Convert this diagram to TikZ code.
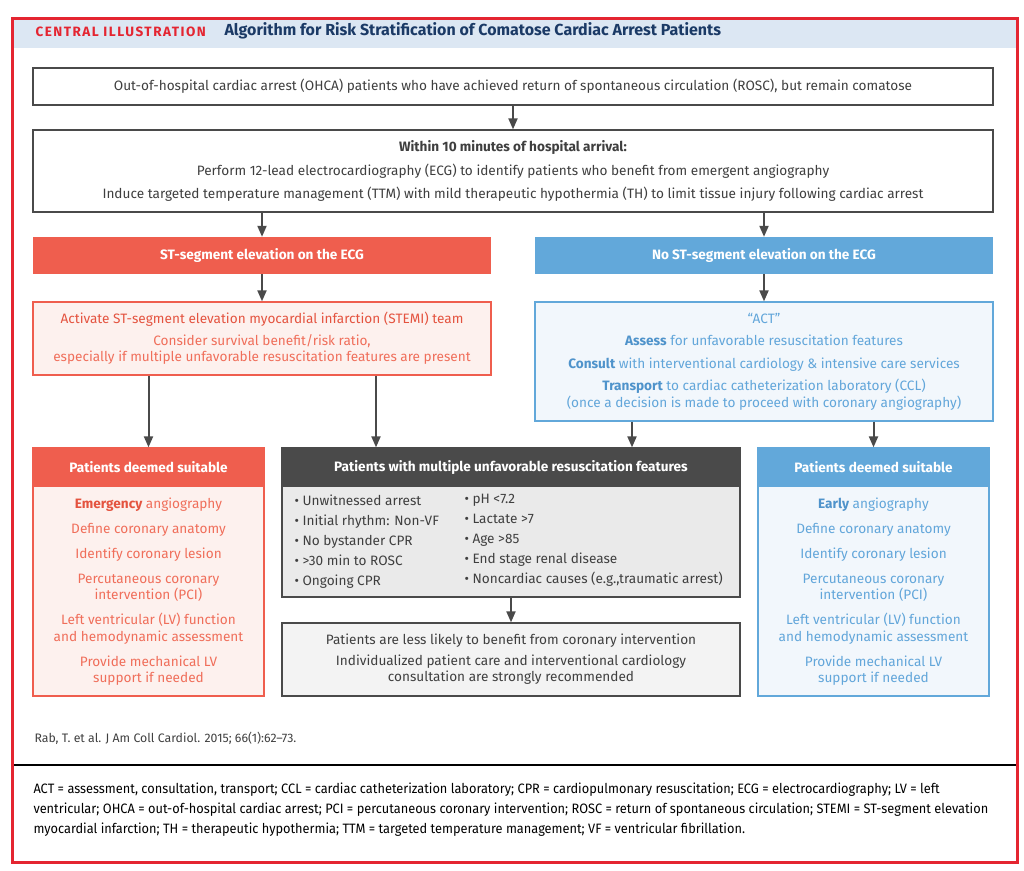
\documentclass[tikz,border=0pt]{standalone}
\usepackage{fontspec}
\setmainfont{Fira Sans}
\newfontfamily\condfont[FakeStretch=0.94]{Fira Sans}
\usetikzlibrary{arrows,arrows.meta,positioning}

\definecolor{framered}{HTML}{E42531}
\definecolor{headband}{HTML}{DCE7F3}
\definecolor{titlenavy}{HTML}{1B3A66}
\definecolor{stred}{HTML}{EF5E4E}
\definecolor{stredtext}{HTML}{F06E5A}
\definecolor{streddark}{HTML}{E4533F}
\definecolor{stredlight}{HTML}{FDF1EE}
\definecolor{noblue}{HTML}{62A8DA}
\definecolor{nobluetext}{HTML}{62A6DA}
\definecolor{nobluedark}{HTML}{4F93CB}
\definecolor{nobluelight}{HTML}{F2F7FC}
\definecolor{darkgray}{HTML}{4A4A4A}
\definecolor{featgray}{HTML}{EAEAEA}
\definecolor{lessgray}{HTML}{F3F3F3}
\definecolor{txtgray}{HTML}{3F3F3F}

\tikzstyle{bodyfont}=[font=\fontsize{13.6}{16.5}\selectfont]

\begin{document}
\begin{tikzpicture}[x=1pt, y=-1pt]

\tikzstyle{plainbox}=[rectangle, draw=darkgray, line width=1.3pt, fill=white, text=txtgray, align=center, bodyfont]
\tikzstyle{redhead}=[rectangle, fill=stred, text=white, align=center, font=\fontsize{13.6}{16}\selectfont\bfseries]
\tikzstyle{bluehead}=[redhead, fill=noblue]
\tikzstyle{grayhead}=[redhead, fill=darkgray]
\tikzstyle{redbox}=[rectangle, draw=stred, line width=1.3pt, fill=stredlight, text=stredtext, align=center, bodyfont]
\tikzstyle{bluebox}=[rectangle, draw=noblue, line width=1.3pt, fill=nobluelight, text=nobluetext, align=center, bodyfont]
\tikzstyle{graybox}=[rectangle, draw=darkgray, line width=1.3pt, fill=featgray, text=txtgray, bodyfont]
\tikzstyle{bullets}=[anchor=north west, text=txtgray, align=left, font=\fontsize{13.6}{20}\selectfont]
\tikzstyle{arrow}=[-{Triangle[length=11pt,width=9pt]}, line width=2pt, draw=darkgray]

\useasboundingbox (0,0) rectangle (1024,870);

% title band
\fill[headband] (13,19) rectangle (1016,48);
\node (label) [anchor=west, text=framered, font=\fontsize{13.5}{14}\selectfont\bfseries\addfontfeature{LetterSpace=11}] at (32,32) {CENTRAL ILLUSTRATION};
\node (title) [anchor=west, text=titlenavy, font=\fontsize{16}{17}\selectfont\bfseries] at (221,31) {Algorithm for Risk Stratification of Comatose Cardiac Arrest Patients};

% top of the algorithm
\node (ohca) [plainbox, minimum width=960pt, minimum height=37pt] at (513,86.5)
  {Out-of-hospital cardiac arrest (OHCA) patients who have achieved return of spontaneous circulation (ROSC), but remain comatose};
\node (within) [plainbox, minimum width=960pt, minimum height=82pt] at (513,171)
  {\bfseries Within 10 minutes of hospital arrival:\\[7pt]
   Perform 12-lead electrocardiography (ECG) to identify patients who benefit from emergent angiography\\[7pt]
   Induce targeted temperature management (TTM) with mild therapeutic hypothermia (TH) to limit tissue injury following cardiac arrest};

\node (stseg) [redhead, minimum width=458pt, minimum height=37pt] at (262,255.5) {ST-segment elevation on the ECG};
\node (nost) [bluehead, minimum width=458pt, minimum height=37pt] at (764,255.5) {No ST-segment elevation on the ECG};

\node (stemi) [redbox, minimum width=458pt, minimum height=73pt] at (262,338.5)
  {\textcolor{streddark}{Activate ST-segment elevation myocardial infarction (STEMI) team}\\[5pt]
   Consider survival benefit/risk ratio,\\
   especially if multiple unfavorable resuscitation features are present};
\node (act) [bluebox, minimum width=458pt, minimum height=119pt] at (764,361.5)
  {``ACT''\\[6pt]
   \textcolor{nobluedark}{\bfseries Assess} for unfavorable resuscitation features\\[6pt]
   \textcolor{nobluedark}{\bfseries Consult} with interventional cardiology \& intensive care services\\[6pt]
   \textcolor{nobluedark}{\bfseries Transport} to cardiac catheterization laboratory (CCL)\\
   (once a decision is made to proceed with coronary angiography)};

% left column
\node (suitL) [redbox, minimum width=231pt, minimum height=248pt] at (148.5,572) {};
\node (suitLhead) [redhead, minimum width=231pt, minimum height=39pt, anchor=north] at (suitL.north) {Patients deemed suitable};
\node (suitLtext) [anchor=north, text=stredtext, align=center, bodyfont] at (148.5,494)
  {\textcolor{streddark}{\bfseries Emergency} angiography\\[8.5pt]
   Define coronary anatomy\\[8.5pt]
   Identify coronary lesion\\[8.5pt]
   Percutaneous coronary\\ intervention (PCI)\\[8.5pt]
   Left ventricular (LV) function\\ and hemodynamic assessment\\[8.5pt]
   Provide mechanical LV\\ support if needed};

% middle column
\node (feat) [graybox, minimum width=458pt, minimum height=149pt] at (511,522.5) {};
\node (feathead) [grayhead, minimum width=458pt, minimum height=39pt, anchor=north] at (feat.north) {Patients with multiple unfavorable resuscitation features};
\node (featleft) [bullets] at (291,491)
  {\textbullet\ Unwitnessed arrest\\ \textbullet\ Initial rhythm: Non-VF\\ \textbullet\ No bystander CPR\\ \textbullet\ >30 min to ROSC\\ \textbullet\ Ongoing CPR};
\node (featright) [bullets] at (461,491)
  {\textbullet\ pH <7.2\\ \textbullet\ Lactate >7\\ \textbullet\ Age >85\\ \textbullet\ End stage renal disease\\ \textbullet\ Noncardiac causes (e.g.,traumatic arrest)};
\node (less) [plainbox, fill=lessgray, minimum width=458pt, minimum height=73pt] at (511,659.5)
  {Patients are less likely to benefit from coronary intervention\\[4pt]
   Individualized patient care and interventional cardiology\\
   consultation are strongly recommended};

% right column
\node (suitR) [bluebox, minimum width=231pt, minimum height=248pt] at (873.5,572) {};
\node (suitRhead) [bluehead, minimum width=231pt, minimum height=39pt, anchor=north] at (suitR.north) {Patients deemed suitable};
\node (suitRtext) [anchor=north, text=nobluetext, align=center, bodyfont] at (873.5,494)
  {\textcolor{nobluedark}{\bfseries Early} angiography\\[8.5pt]
   Define coronary anatomy\\[8.5pt]
   Identify coronary lesion\\[8.5pt]
   Percutaneous coronary\\ intervention (PCI)\\[8.5pt]
   Left ventricular (LV) function\\ and hemodynamic assessment\\[8.5pt]
   Provide mechanical LV\\ support if needed};

% connectors
\coordinate (stemi2feat) at (376,0);
\coordinate (act2feat) at (632,0);
\draw[arrow] (ohca.south) -- (within.north);
\draw[arrow] (within.south -| stseg.north) -- (stseg.north);
\draw[arrow] (within.south -| nost.north) -- (nost.north);
\draw[arrow] (stseg.south) -- (stemi.north);
\draw[arrow] (nost.south) -- (act.north);
\draw[arrow] (stemi.south -| suitLhead.north) -- (suitLhead.north);
\draw[arrow] (stemi.south -| stemi2feat) -- (feathead.north -| stemi2feat);
\draw[arrow] (act.south -| act2feat) -- (feathead.north -| act2feat);
\draw[arrow] (act.south -| suitRhead.north) -- (suitRhead.north);
\draw[arrow] (feat.south) -- (less.north);

% citation and abbreviations
\node (cite) [anchor=west, text=txtgray, font=\fontsize{12.3}{13}\selectfont] at (31,738) {Rab, T. et al. J Am Coll Cardiol. 2015; 66(1):62--73.};
\draw[black, line width=1.3pt] (13,765) -- (1016,765);
\node (abbrev) [anchor=north west, align=left, text=black, font=\fontsize{13.6}{20}\condfont] at (30,779)
  {ACT = assessment, consultation, transport; CCL = cardiac catheterization laboratory; CPR = cardiopulmonary resuscitation; ECG = electrocardiography; LV = left\\
   ventricular; OHCA = out-of-hospital cardiac arrest; PCI = percutaneous coronary intervention; ROSC = return of spontaneous circulation; STEMI = ST-segment elevation\\
   myocardial infarction; TH = therapeutic hypothermia; TTM = targeted temperature management; VF = ventricular fibrillation.};

% outer frame
\draw[framered, line width=3pt] (12,18) rectangle (1017,862);
\end{tikzpicture}
\end{document}
